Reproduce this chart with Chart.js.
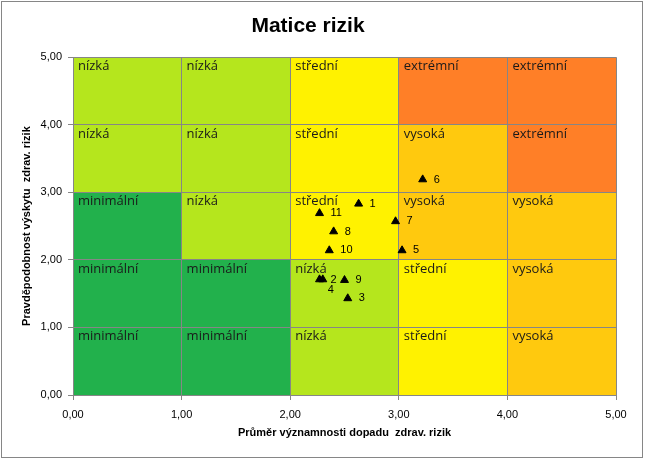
<!DOCTYPE html>
<html>
<head>
<meta charset="utf-8">
<script src="https://cdn.jsdelivr.net/npm/chart.js@4/dist/chart.umd.min.js"></script>
<style>
    html, body { margin: 0; padding: 0; background: #fff; }
</style>
</head>
<body>
<canvas id="maticeChart" width="645" height="459"></canvas>
<script>
// Data
const cislaRizik = ['1', '2', '3', '4', '5', '6', '7', '8', '9', '10', '11'];
const prumerDopadu = [2.63, 2.27, 2.53, 2.30, 3.03, 3.22, 2.97, 2.40, 2.50, 2.36, 2.27];
const pravdepodobnost = [2.83, 1.71, 1.43, 1.71, 2.14, 3.19, 2.57, 2.42, 1.70, 2.14, 2.69];
const hodnotyOs = [0, 1, 2, 3, 4, 5];

// Úrovně v matici, řádky odshora (pravděpodobnost 4-5) dolů (0-1)
const urovneMatice = [
    ['nízká', 'nízká', 'střední', 'extrémní', 'extrémní'],
    ['nízká', 'nízká', 'střední', 'vysoká', 'extrémní'],
    ['minimální', 'nízká', 'střední', 'vysoká', 'vysoká'],
    ['minimální', 'minimální', 'nízká', 'střední', 'vysoká'],
    ['minimální', 'minimální', 'nízká', 'střední', 'vysoká']
];
const barvyUrovni = {
    'minimální': '#22b14c',
    'nízká': '#b5e61d',
    'střední': '#fff200',
    'vysoká': '#ffc90e',
    'extrémní': '#ff7f27'
};

const sedaCara = '#868686';
const formatCisla = v => Number(v).toFixed(2).replace('.', ',');

// Pozadí: rámeček grafu + barevná matice
const pozadiMatice = {
    id: 'pozadiMatice',
    beforeDraw(chart) {
        const ctx = chart.ctx;
        const sx = chart.scales.x, sy = chart.scales.y;
        ctx.save();
        ctx.fillStyle = '#fff';
        ctx.fillRect(0, 0, chart.width, chart.height);
        ctx.strokeStyle = sedaCara;
        ctx.lineWidth = 1;
        ctx.strokeRect(1.5, 1.5, 641, 456);

        ctx.font = "13px 'Open Sans'";
        ctx.textAlign = 'left';
        ctx.textBaseline = 'alphabetic';
        urovneMatice.forEach((radek, r) => {
            const yHorni = hodnotyOs[hodnotyOs.length - 1 - r];
            const y0 = sy.getPixelForValue(yHorni);
            const y1 = sy.getPixelForValue(yHorni - 1);
            radek.forEach((uroven, c) => {
                const x0 = sx.getPixelForValue(hodnotyOs[c]);
                const x1 = sx.getPixelForValue(hodnotyOs[c + 1]);
                ctx.fillStyle = barvyUrovni[uroven];
                ctx.fillRect(x0, y0, x1 - x0, y1 - y0);
                ctx.fillStyle = '#1a1a1a';
                ctx.fillText(uroven, x0 + 5, y0 + 13);
            });
        });
        ctx.restore();
    }
};

// Popisky bodů vpravo od značky
const popiskyBodu = {
    id: 'popiskyBodu',
    afterDatasetsDraw(chart) {
        const ctx = chart.ctx;
        const body = chart.getDatasetMeta(0).data;
        const obsazeno = [];
        ctx.save();
        ctx.font = "11px 'Liberation Sans'";
        ctx.fillStyle = '#000';
        ctx.textAlign = 'left';
        ctx.textBaseline = 'middle';
        body.forEach((bod, i) => {
            const text = cislaRizik[i];
            const w = ctx.measureText(text).width;
            let x = bod.x + 11, y = bod.y;
            const koliduje = obsazeno.some(o => x < o.x + o.w && x + w > o.x && Math.abs(y - o.y) < 10);
            if (koliduje) { x -= 6; y += 10; }
            obsazeno.push({ x: x, y: y, w: w });
            ctx.fillText(text, x, y);
        });
        ctx.restore();
    }
};

const ctx = document.getElementById('maticeChart').getContext('2d');

new Chart(ctx, {
    type: 'scatter',
    data: {
        datasets: [{
            label: 'Rizika',
            data: prumerDopadu.map((x, i) => ({ x: x, y: pravdepodobnost[i] })),
            pointStyle: 'triangle',
            pointRadius: 4.6,
            pointHoverRadius: 4.6,
            backgroundColor: '#000',
            borderColor: '#000',
            borderWidth: 1
        }]
    },
    options: {
        responsive: false,
        animation: false,
        devicePixelRatio: 1,
        layout: {
            padding: { left: 0, right: 29, top: 0, bottom: 0 }
        },
        scales: {
            x: {
                type: 'linear',
                min: 0,
                max: 5,
                afterFit: s => { s.height = 64; },
                afterBuildTicks: s => { s.ticks = hodnotyOs.map(v => ({ value: v })); },
                ticks: {
                    color: '#000',
                    padding: 8,
                    font: { family: "'Liberation Sans'", size: 11 },
                    callback: formatCisla
                },
                grid: { color: sedaCara, tickLength: 5 },
                border: { color: sedaCara },
                title: {
                    display: true,
                    text: 'Průměr významnosti dopadu  zdrav. rizik',
                    color: '#000',
                    font: { family: "'Liberation Sans'", size: 11, weight: 'bold' },
                    padding: { top: 0, bottom: 19 }
                }
            },
            y: {
                type: 'linear',
                min: 0,
                max: 5,
                afterFit: s => { s.width = 73; },
                afterBuildTicks: s => { s.ticks = hodnotyOs.map(v => ({ value: v })); },
                ticks: {
                    color: '#000',
                    padding: 6,
                    font: { family: "'Liberation Sans'", size: 11 },
                    callback: formatCisla
                },
                grid: { color: sedaCara, tickLength: 5 },
                border: { color: sedaCara },
                title: {
                    display: true,
                    text: 'Pravděpodobnost výskytu  zdrav. rizik',
                    color: '#000',
                    font: { family: "'Liberation Sans'", size: 11, weight: 'bold' },
                    padding: { top: 20, bottom: 0 }
                }
            }
        },
        plugins: {
            legend: { display: false },
            tooltip: { enabled: false },
            title: {
                display: true,
                text: 'Matice rizik',
                color: '#000',
                font: { family: "'Liberation Sans'", size: 21, weight: 'bold' },
                padding: { top: 14, bottom: 18 }
            }
        }
    },
    plugins: [pozadiMatice, popiskyBodu]
});
</script>
</body>
</html>
